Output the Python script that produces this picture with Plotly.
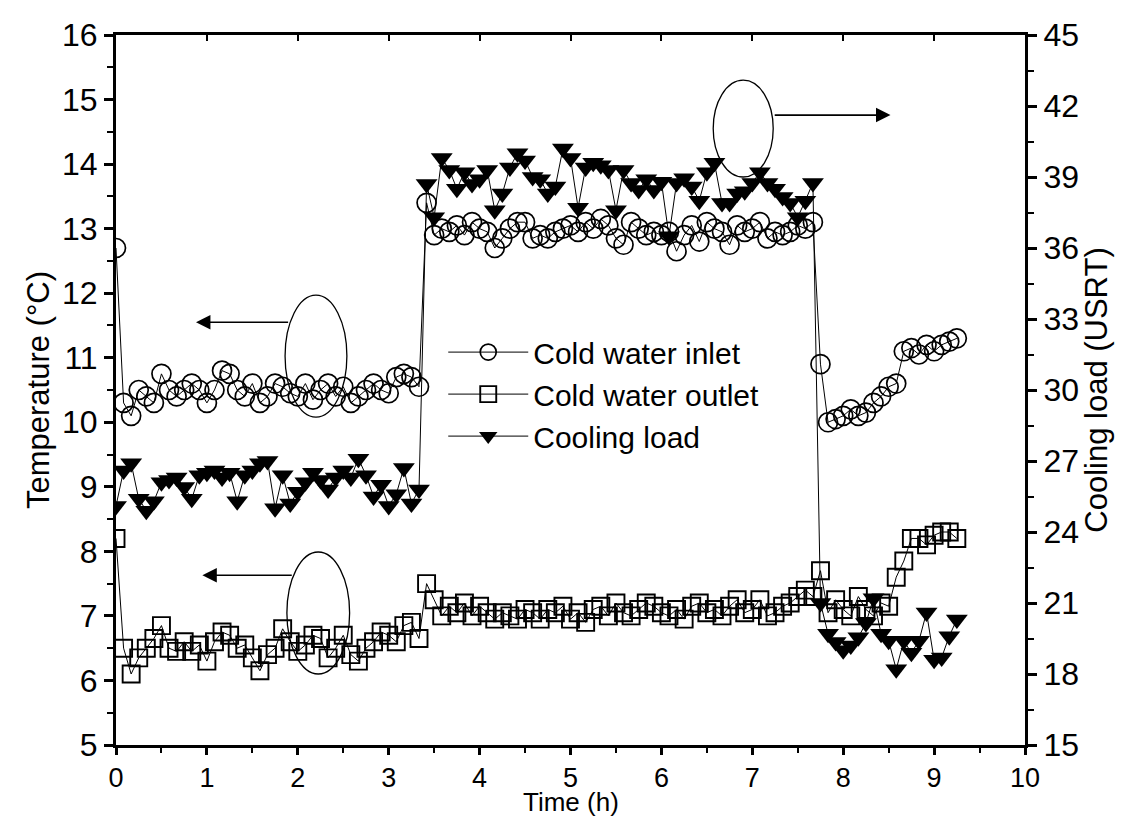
import plotly.graph_objects as go

# Sampling: one reading every 5 minutes (1/12 h), 112 readings
time_h = [k / 12 for k in range(112)]

inlet_temp = [
    12.7, 10.3, 10.1, 10.5, 10.4, 10.3, 10.75, 10.5, 10.4, 10.5,
    10.6, 10.5, 10.3, 10.5, 10.8, 10.75, 10.5, 10.4, 10.6, 10.3,
    10.4, 10.6, 10.55, 10.45, 10.4, 10.6, 10.35, 10.5, 10.6, 10.4,
    10.55, 10.3, 10.4, 10.5, 10.6, 10.5, 10.45, 10.7, 10.75, 10.7,
    10.55,
    13.4, 12.9, 13.0, 12.95, 13.05, 12.9, 13.1, 13.0, 12.95, 12.7,
    12.85, 13.0, 13.1, 13.1, 12.85, 12.9, 12.85, 12.95, 13.0, 13.05,
    12.95, 13.1, 13.0, 13.15, 13.05, 12.85, 12.75, 13.1, 13.0, 12.9,
    12.95, 12.9, 12.95, 12.65, 12.9, 13.05, 12.8, 13.1, 13.0, 12.95,
    12.75, 13.05, 12.95, 13.0, 13.1, 12.85, 12.95, 12.9, 12.95, 13.05,
    13.0, 13.1,
    10.9, 10.0, 10.05, 10.1, 10.2, 10.1, 10.15, 10.3, 10.4, 10.55,
    10.6, 11.1, 11.15, 11.05, 11.2, 11.1, 11.2, 11.25, 11.3,
]

outlet_temp = [
    8.2, 6.5, 6.1, 6.35, 6.5, 6.65, 6.85, 6.5, 6.45, 6.6,
    6.45, 6.55, 6.3, 6.6, 6.75, 6.7, 6.5, 6.55, 6.35, 6.15,
    6.4, 6.5, 6.8, 6.6, 6.45, 6.55, 6.7, 6.65, 6.35, 6.5,
    6.7, 6.4, 6.3, 6.5, 6.6, 6.75, 6.7, 6.6, 6.85, 6.9,
    6.65,
    7.5, 7.25, 7.0, 7.15, 7.05, 7.2, 7.0, 7.15, 7.05, 6.95,
    7.05, 7.0, 6.95, 7.1, 7.05, 6.95, 7.1, 7.05, 7.15, 6.95,
    7.05, 6.9, 7.1, 7.15, 7.0, 7.2, 7.05, 7.0, 7.1, 7.2,
    7.15, 7.05, 7.0, 7.1, 6.95, 7.15, 7.2, 7.05, 7.1, 7.0,
    7.15, 7.25, 7.05, 7.1, 7.25, 7.0, 7.05, 7.15, 7.2, 7.3,
    7.4, 7.3,
    7.7, 7.05, 7.25, 7.1, 7.0, 7.3, 7.1, 7.0, 7.2, 7.15,
    7.6, 7.85, 8.2, 8.2, 8.1, 8.25, 8.3, 8.3, 8.2,
]

cooling_load = [
    25.1, 26.6, 26.9, 25.4, 24.9, 25.3, 26.1, 26.2, 26.3, 25.9,
    25.4, 26.4, 26.5, 26.6, 26.3, 26.5, 25.3, 26.4, 26.6, 26.9,
    27.0, 25.0, 26.4, 25.2, 25.7, 26.1, 26.5, 26.2, 25.8, 26.3,
    26.6, 26.3, 27.1, 26.4, 25.5, 26.0, 25.1, 25.6, 26.7, 25.2,
    25.8,
    38.7, 37.3, 39.8, 39.3, 38.5, 39.2, 38.7, 38.9, 39.3, 37.6,
    38.3, 39.4, 40.0, 39.7, 39.0, 38.9, 38.3, 38.6, 40.2, 39.8,
    37.7, 39.4, 39.6, 39.5, 39.3, 37.6, 39.3, 38.75, 38.45, 38.9,
    38.45, 38.8, 36.5, 38.75, 38.95, 38.6, 38.0, 39.2, 39.6, 37.9,
    37.9, 38.3, 38.4, 38.75, 39.2, 38.75, 38.5, 38.15, 37.9, 37.3,
    38.0, 38.75,
    21.0, 19.7, 19.35, 19.0, 19.2, 19.55, 20.15, 21.2, 19.7, 19.4,
    18.2, 19.4, 18.9, 19.4, 20.6, 18.6, 18.7, 19.6, 20.3,
]

x_ticks = list(range(0, 11))
temp_ticks = list(range(5, 17))
load_ticks = list(range(15, 46, 3))

FONT = "Liberation Sans, Arial, sans-serif"
INK = "black"
TICK_SIZE = 32
XTICK_SIZE = 27
TITLE_SIZE = 31
XTITLE_SIZE = 26
LEGEND_SIZE = 30

fig = go.Figure()

fig.add_trace(go.Scatter(
    x=time_h, y=inlet_temp, name="Cold water inlet", mode="lines+markers",
    line=dict(color=INK, width=1),
    marker=dict(symbol="circle-open", size=19, color=INK, line=dict(width=1.7)),
    legendgroup="a",
))
fig.add_trace(go.Scatter(
    x=time_h, y=outlet_temp, name="Cold water outlet", mode="lines+markers",
    line=dict(color=INK, width=1),
    marker=dict(symbol="square-open", size=17, color=INK, line=dict(width=1.9)),
    legendgroup="b",
))
fig.add_trace(go.Scatter(
    x=time_h, y=cooling_load, name="Cooling load", mode="lines+markers",
    yaxis="y2",
    line=dict(color=INK, width=1),
    marker=dict(symbol="triangle-down", size=19, color=INK),
    legendgroup="c",
))

# Ellipses marking which axis each group of curves belongs to
ellipses = [
    (6.57, 7.23, 13.8, 15.3),
    (1.86, 2.54, 10.08, 11.97),
    (1.88, 2.57, 6.10, 7.99),
]
for x0, x1, y0, y1 in ellipses:
    fig.add_shape(type="circle", xref="x", yref="y", x0=x0, x1=x1, y0=y0, y1=y1,
                  line=dict(color=INK, width=1.3))

# Arrows pointing to the relevant axis
arrows = [
    (7.23, 8.52, 14.76),
    (1.91, 0.88, 11.55),
    (1.95, 0.95, 7.63),
]
for xs, xe, yy in arrows:
    fig.add_annotation(x=xe, y=yy, ax=xs, ay=yy, xref="x", yref="y",
                       axref="x", ayref="y", showarrow=True, text="",
                       arrowhead=2, arrowsize=1.7, arrowwidth=1.7,
                       arrowcolor=INK)

# x-axis title, set at the foot of the figure under the tick labels
fig.add_annotation(text="Time (h)", xref="paper", yref="paper", x=0.5, y=-0.1028,
                   xanchor="center", yanchor="bottom", showarrow=False,
                   borderpad=0,
                   font=dict(family=FONT, size=XTITLE_SIZE, color=INK))

axis_common = dict(
    showline=True, linecolor=INK, linewidth=3,
    ticks="outside", tickcolor=INK, tickwidth=2.5, ticklen=9,
    showgrid=False, zeroline=False, automargin=False,
)

fig.update_layout(
    width=1144, height=818,
    margin=dict(l=116, r=119, t=35, b=73),
    paper_bgcolor="white", plot_bgcolor="white",
    font=dict(family=FONT, size=TICK_SIZE, color=INK),
    xaxis=dict(
        range=[0, 10], tickvals=x_ticks,
        minor=dict(dtick=0.5, ticks="outside", ticklen=5, tickwidth=2, tickcolor=INK),
        tickfont=dict(family=FONT, size=XTICK_SIZE, color=INK),
        **{**axis_common, "ticklen": 7},
    ),
    xaxis2=dict(
        overlaying="x", side="top", range=[0, 10], tickvals=x_ticks,
        showline=True, linecolor=INK, linewidth=3,
        ticks="inside", tickcolor=INK, tickwidth=2, ticklen=6,
        showticklabels=False, showgrid=False, zeroline=False, automargin=False,
    ),
    yaxis=dict(
        range=[5, 16], tickvals=temp_ticks,
        minor=dict(dtick=0.5, ticks="outside", ticklen=6, tickwidth=2, tickcolor=INK),
        tickfont=dict(family=FONT, size=TICK_SIZE, color=INK),
        title=dict(text="Temperature (°C)", font=dict(family=FONT, size=TITLE_SIZE), standoff=4),
        **axis_common,
    ),
    yaxis2=dict(
        overlaying="y", side="right", anchor="x",
        range=[15, 45], tickvals=load_ticks,
        minor=dict(dtick=1.5, ticks="outside", ticklen=6, tickwidth=2, tickcolor=INK),
        tickfont=dict(family=FONT, size=TICK_SIZE, color=INK),
        title=dict(text="Cooling load (USRT)", font=dict(family=FONT, size=TITLE_SIZE), standoff=6),
        **axis_common,
    ),
    legend=dict(
        x=0.36, y=0.59, xanchor="left", yanchor="top",
        bgcolor="rgba(0,0,0,0)", borderwidth=0,
        font=dict(family=FONT, size=LEGEND_SIZE, color=INK),
        itemwidth=80, tracegroupgap=0, traceorder="grouped",
    ),
    showlegend=True,
)

# Empty trace so the top axis is drawn
fig.add_trace(go.Scatter(x=[None], y=[None], xaxis="x2", showlegend=False, hoverinfo="skip"))

fig.write_html("out.html")
